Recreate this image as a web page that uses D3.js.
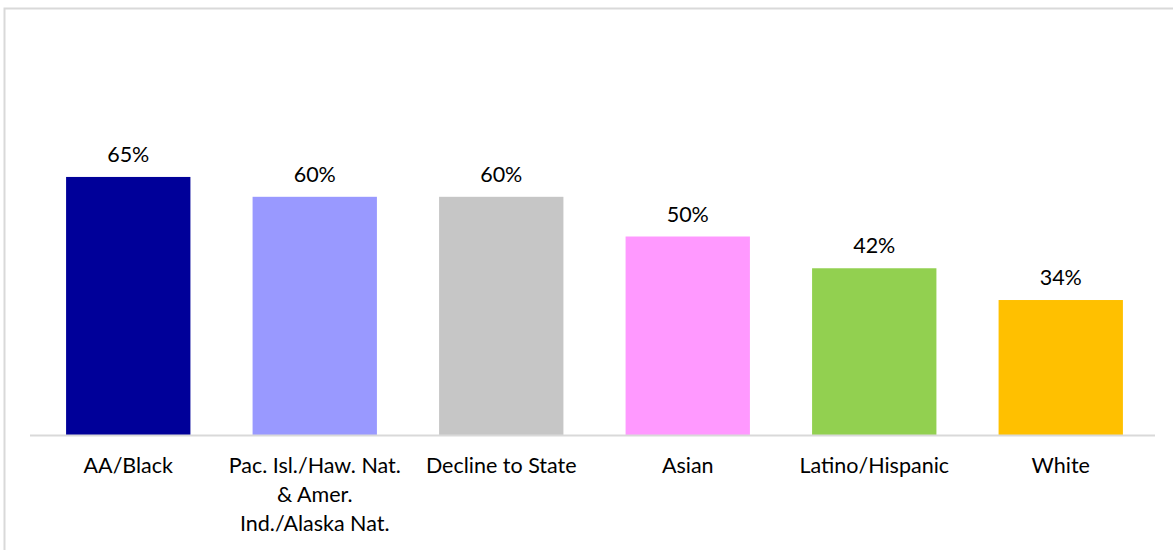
<!DOCTYPE html>
<html><head><meta charset="utf-8">
<script src="https://cdn.jsdelivr.net/npm/d3@7"></script>
<style>
html,body{margin:0;padding:0;background:#fff;}
svg{display:block;font-family:Lato,"Open Sans",sans-serif;}
</style></head>
<body>
<svg id="chart" width="1173" height="550"></svg>
<script>
const categories = ["AA/Black", "Pac. Isl./Haw. Nat.\n& Amer.\nInd./Alaska Nat.", "Decline to State", "Asian", "Latino/Hispanic", "White"];
const values = [65, 60, 60, 50, 42, 34];
const colors = ["#000099", "#9999FF", "#C6C6C6", "#FF99FF", "#92D050", "#FFC000"];

const svg = d3.select("#chart");
const W = 1173, H = 550;
const FS = 21.5;

// chart frame (partially cropped)
svg.append("rect").attr("x", 4.5).attr("y", 8.5).attr("width", W + 10).attr("height", H + 10)
  .attr("fill", "none").attr("stroke", "#D9D9D9").attr("stroke-width", 2);

const x = d3.scaleBand().domain(categories).range([35, 1154]).paddingInner(1/3).paddingOuter(1/6);
const y = d3.scaleLinear().domain([0, 100]).range([435, 38]);

svg.selectAll("rect.bar").data(values).join("rect").attr("class", "bar")
  .attr("x", (d, i) => x(categories[i]))
  .attr("width", x.bandwidth())
  .attr("y", d => y(d))
  .attr("height", d => y(0) - y(d))
  .attr("fill", (d, i) => colors[i]);

svg.selectAll("text.val").data(values).join("text").attr("class", "val")
  .attr("x", (d, i) => x(categories[i]) + x.bandwidth() / 2)
  .attr("y", d => y(d) - 15)
  .attr("text-anchor", "middle").attr("font-size", FS).attr("fill", "#000")
  .text(d => d + "%");

// x axis
const xAxis = d3.axisBottom(x).tickSize(0).tickFormat("");
const gx = svg.append("g").attr("transform", `translate(0,${y(0)})`).call(xAxis);
gx.select(".domain").attr("stroke", "#D9D9D9").attr("stroke-width", 2).attr("d", "M30,0.5H1155");

const lbl = svg.append("g");
categories.forEach(c => {
  const t = lbl.append("text").attr("x", x(c) + x.bandwidth() / 2).attr("y", 473)
    .attr("text-anchor", "middle").attr("font-size", FS).attr("fill", "#000");
  c.split("\n").forEach((line, j) => {
    t.append("tspan").attr("x", x(c) + x.bandwidth() / 2).attr("dy", j === 0 ? 0 : 29).text(line);
  });
});
</script>
</body></html>
